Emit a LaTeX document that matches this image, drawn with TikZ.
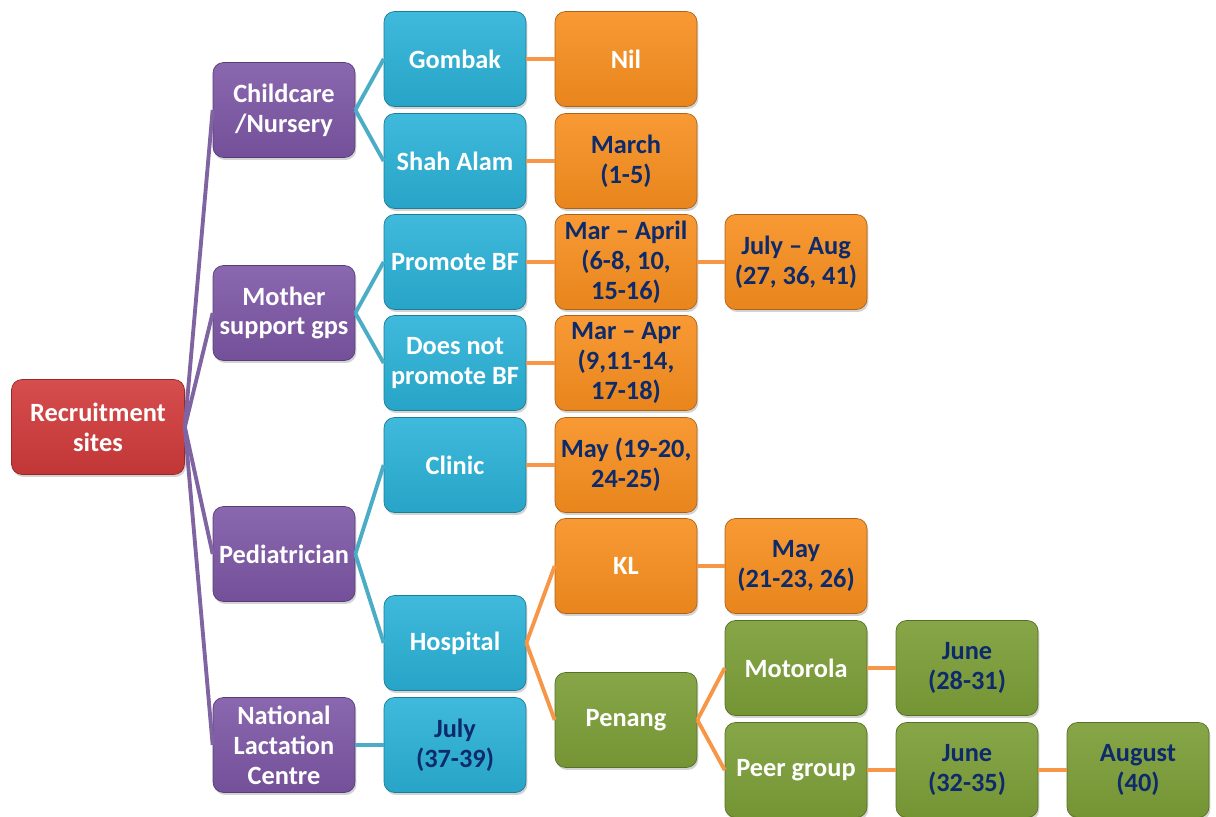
\documentclass[tikz,border=0pt]{standalone}
\usepackage{fontspec}
\setmainfont{Carlito}
\usetikzlibrary{shadows}

\definecolor{boxred}{HTML}{D23A3A}
\definecolor{boxpurple}{HTML}{7D57A6}
\definecolor{boxblue}{HTML}{2AB2D8}
\definecolor{boxorange}{HTML}{F78E1E}
\definecolor{boxgreen}{HTML}{7C9E38}
\definecolor{datenavy}{HTML}{0D2A6A}
\definecolor{linkpurple}{HTML}{8064A2}
\definecolor{linkblue}{HTML}{4BACC6}
\definecolor{linkorange}{HTML}{F79646}

\tikzset{
	box/.style={rectangle, rounded corners=6pt, minimum width=2.84cm, minimum height=1.9cm,
		inner sep=1pt, align=center, font=\fontsize{15}{17}\selectfont\bfseries, text=white,
		drop shadow={opacity=0.35, shadow xshift=0.8pt, shadow yshift=-1.4pt}},
	redbox/.style={box, minimum width=3.46cm, top color=boxred!90!white, bottom color=boxred!92!black, draw=boxred!70!black},
	purplebox/.style={box, top color=boxpurple!90!white, bottom color=boxpurple!92!black, draw=boxpurple!70!black},
	bluebox/.style={box, top color=boxblue!90!white, bottom color=boxblue!92!black, draw=boxblue!70!black},
	orangebox/.style={box, top color=boxorange!90!white, bottom color=boxorange!94!black, draw=boxorange!70!black},
	greenbox/.style={box, top color=boxgreen!92!white, bottom color=boxgreen!94!black, draw=boxgreen!70!black},
	datetext/.style={text=datenavy},
	link/.style={line width=2.2pt}
}

\begin{document}
\begin{tikzpicture}[x=0.02cm, y=-0.02cm]
	\useasboundingbox (0,0) rectangle (1216,817);

	% level 0 and 1
	\node[redbox] (root) at (98,427) {Recruitment\\sites};
	\node[purplebox] (care) at (284,110) {Childcare\\/Nursery};
	\node[purplebox] (mother) at (284,313) {Mother\\support gps};
	\node[purplebox] (pedia) at (284,554) {Pediatrician};
	\node[purplebox] (nlc) at (284,745) {National\\Lactation\\Centre};

	% level 2
	\node[bluebox] (gombak) at (455,59) {Gombak};
	\node[bluebox] (shah) at (455,161) {Shah Alam};
	\node[bluebox] (promote) at (455,262) {Promote BF};
	\node[bluebox] (nopromote) at (455,363) {Does not\\promote BF};
	\node[bluebox] (clinic) at (455,465) {Clinic};
	\node[bluebox] (hospital) at (455,643) {Hospital};
	\node[bluebox, datetext] (july) at (455,745) {July\\(37-39)};

	% level 3
	\node[orangebox] (nil) at (626,59) {Nil};
	\node[orangebox, datetext] (march) at (626,161) {March\\(1-5)};
	\node[orangebox, datetext] (marapril) at (626,262) {Mar -- April\\(6-8, 10,\\15-16)};
	\node[orangebox, datetext] (marapr) at (626,363) {Mar -- Apr\\(9,11-14,\\17-18)};
	\node[orangebox, datetext] (mayclinic) at (626,465) {May (19-20,\\24-25)};
	\node[orangebox] (kl) at (626,566) {KL};
	\node[greenbox] (penang) at (626,720) {Penang};

	% level 4 and 5
	\node[orangebox, datetext] (julyaug) at (796,262) {July -- Aug\\(27, 36, 41)};
	\node[orangebox, datetext] (maykl) at (796,566) {May\\(21-23, 26)};
	\node[greenbox] (motorola) at (796,668) {Motorola};
	\node[greenbox] (peer) at (796,770) {Peer group};
	\node[greenbox, datetext] (junea) at (967,668) {June\\(28-31)};
	\node[greenbox, datetext] (juneb) at (967,770) {June\\(32-35)};
	\node[greenbox, datetext] (august) at (1138,770) {August\\(40)};

	\foreach \i / \j in {root/care, root/mother, root/pedia, root/nlc}
	{
		\draw[link, linkpurple] (\i.east) -- (\j.west);
	};

	\foreach \i / \j in {care/gombak, care/shah, mother/promote, mother/nopromote,
	pedia/clinic, pedia/hospital, nlc/july}
	{
		\draw[link, linkblue] (\i.east) -- (\j.west);
	};

	\foreach \i / \j in {gombak/nil, shah/march, promote/marapril, nopromote/marapr,
	clinic/mayclinic, hospital/kl, hospital/penang, marapril/julyaug, kl/maykl,
	penang/motorola, penang/peer, motorola/junea, peer/juneb, juneb/august}
	{
		\draw[link, linkorange] (\i.east) -- (\j.west);
	};
\end{tikzpicture}
\end{document}
